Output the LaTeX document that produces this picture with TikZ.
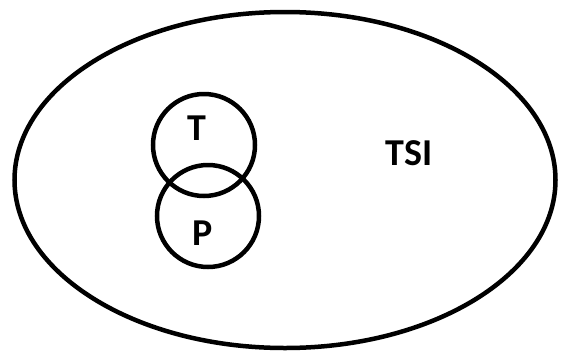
\documentclass[tikz,border=0pt]{standalone}
\usepackage{fontspec}
\setmainfont{Carlito}
\usetikzlibrary{shapes.geometric}
\tikzset{
  setline/.style={draw=black, line width=4.5pt, inner sep=0pt, fill=none},
  setcircle/.style={setline, circle, minimum size=#1},
  setlabel/.style={font=\bfseries\fontsize{38}{40}\selectfont, inner sep=0pt, text=black}
}
\begin{document}
\begin{tikzpicture}[x=1pt, y=-1pt]
  \useasboundingbox[fill=white] (0,0) rectangle (568,354);
  % universe of the diagram
  \node[setline, ellipse, minimum width=541pt, minimum height=336pt] (U) at (285,180) {};
  % the two overlapping sets
  \node[setcircle=102pt] (Tc) at (204,145) {};
  \node[setcircle=102pt] (Pc) at (208,216) {};
  % labels
  \node[setlabel] (T) at (197,128) {T};
  \node[setlabel] (P) at (203,233) {P};
  \node[setlabel] (TSI) at (409,153) {TSI};
\end{tikzpicture}
\end{document}
